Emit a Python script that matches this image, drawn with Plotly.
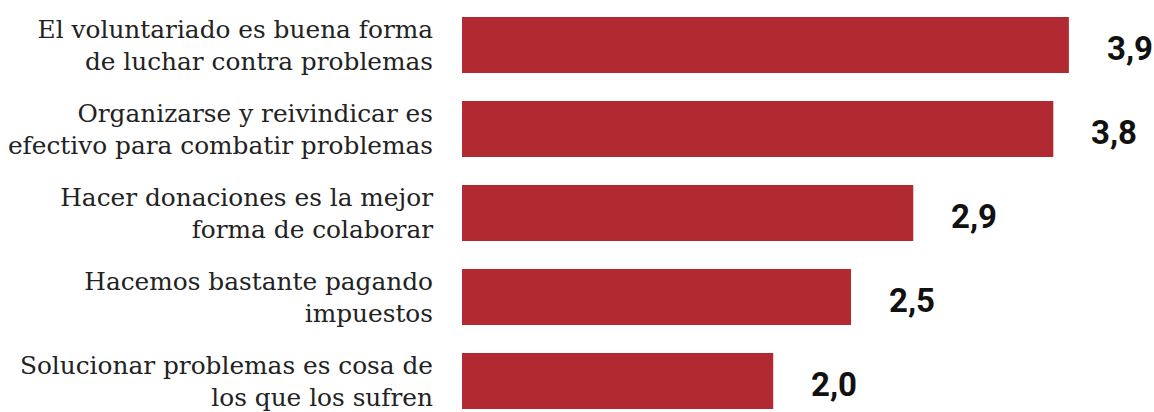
import plotly.graph_objects as go

categories = [
    "El voluntariado es buena forma<br>de luchar contra problemas",
    "Organizarse y reivindicar es<br>efectivo para combatir problemas",
    "Hacer donaciones es la mejor<br>forma de colaborar",
    "Hacemos bastante pagando<br>impuestos",
    "Solucionar problemas es cosa de<br>los que los sufren",
]
values = [3.9, 3.8, 2.9, 2.5, 2.0]
value_labels = ["3,9", "3,8", "2,9", "2,5", "2,0"]

fig = go.Figure()
fig.add_trace(go.Bar(
    x=values, y=categories, orientation="h",
    marker=dict(color="#b12a32", line=dict(width=0)),
    hoverinfo="skip",
))

for v, c, t in zip(values, categories, value_labels):
    fig.add_annotation(
        x=v, y=c, text=t, showarrow=False, xanchor="left", yanchor="middle",
        xshift=36, yshift=-3,
        font=dict(family="Roboto", size=33, color="#111111", weight=700),
    )

fig.update_layout(
    width=1154, height=412,
    margin=dict(l=462, r=0, t=0, b=0),
    paper_bgcolor="white", plot_bgcolor="white",
    bargap=0.3333,
    showlegend=False,
    xaxis=dict(range=[0, 4.447], visible=False, fixedrange=True),
    yaxis=dict(
        type="category",
        range=[4.369, -0.536],
        showgrid=False, zeroline=False, showline=False,
        ticks="outside", ticklen=23, tickcolor="rgba(0,0,0,0)",
        tickfont=dict(family="DejaVu Serif", size=24.8, color="#222222"),
    ),
)

fig.write_html(
    "out.html",
    config={"displayModeBar": False, "staticPlot": True},
    post_script="document.body.style.margin='0';document.body.style.overflow='hidden';",
)
